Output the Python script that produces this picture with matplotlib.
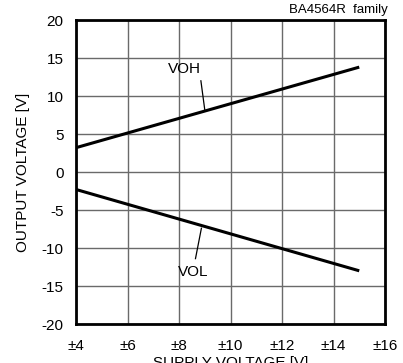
import numpy as np
import matplotlib

matplotlib.use("Agg")
import matplotlib.pyplot as plt

plt.rcParams["font.family"] = ["Liberation Sans", "DejaVu Sans"]
plt.rcParams["axes.unicode_minus"] = False

# supply voltage (±V) and output swing
supply = [4, 15]
voh = [3.2, 13.8]
vol = [-2.3, -13.0]

x_ticks = [4, 6, 8, 10, 12, 14, 16]
x_labels = ["±4", "±6", "±8", "±10", "±12", "±14", "±16"]
y_ticks = [-20, -15, -10, -5, 0, 5, 10, 15, 20]

fig = plt.figure(figsize=(4.03, 3.63), dpi=100)
ax = fig.add_axes([76 / 403, 1 - 324 / 363, 309 / 403, 304 / 363])

ax.plot(supply, voh, color="black", lw=2.2, solid_capstyle="butt")
ax.plot(supply, vol, color="black", lw=2.2, solid_capstyle="butt")

# labels with leader lines
ax.text(8.23, 13.5, "VOH", fontsize=11, ha="center", va="center")
ax.plot([8.85, 9.0], [12.0, 8.2], color="black", lw=0.9)
ax.text(8.55, -13.2, "VOL", fontsize=11, ha="center", va="center")
ax.plot([8.87, 8.64], [-7.4, -11.4], color="black", lw=0.9)

ax.set_xlim(4, 16)
ax.set_ylim(-20, 20)
ax.set_xticks(x_ticks)
ax.set_xticklabels(x_labels)
ax.set_yticks(y_ticks)
ax.tick_params(axis="x", length=0, pad=11, labelsize=11)
ax.tick_params(axis="y", length=0, pad=9, labelsize=11)
ax.grid(True, color="#6a6a6a", lw=1.0)
for s in ax.spines.values():
    s.set_linewidth(2.0)

ax.set_xlabel("SUPPLY VOLTAGE [V]", fontsize=11)
ax.xaxis.set_label_coords(0.5, -0.105)
ax.set_ylabel("OUTPUT VOLTAGE [V]", fontsize=11)
ax.yaxis.set_label_coords(-0.15, 0.5)
fig.text(388 / 403, 1 - 10 / 363, "BA4564R  family", fontsize=9.5, ha="right", va="center")

fig.savefig("out.png", dpi=100)
